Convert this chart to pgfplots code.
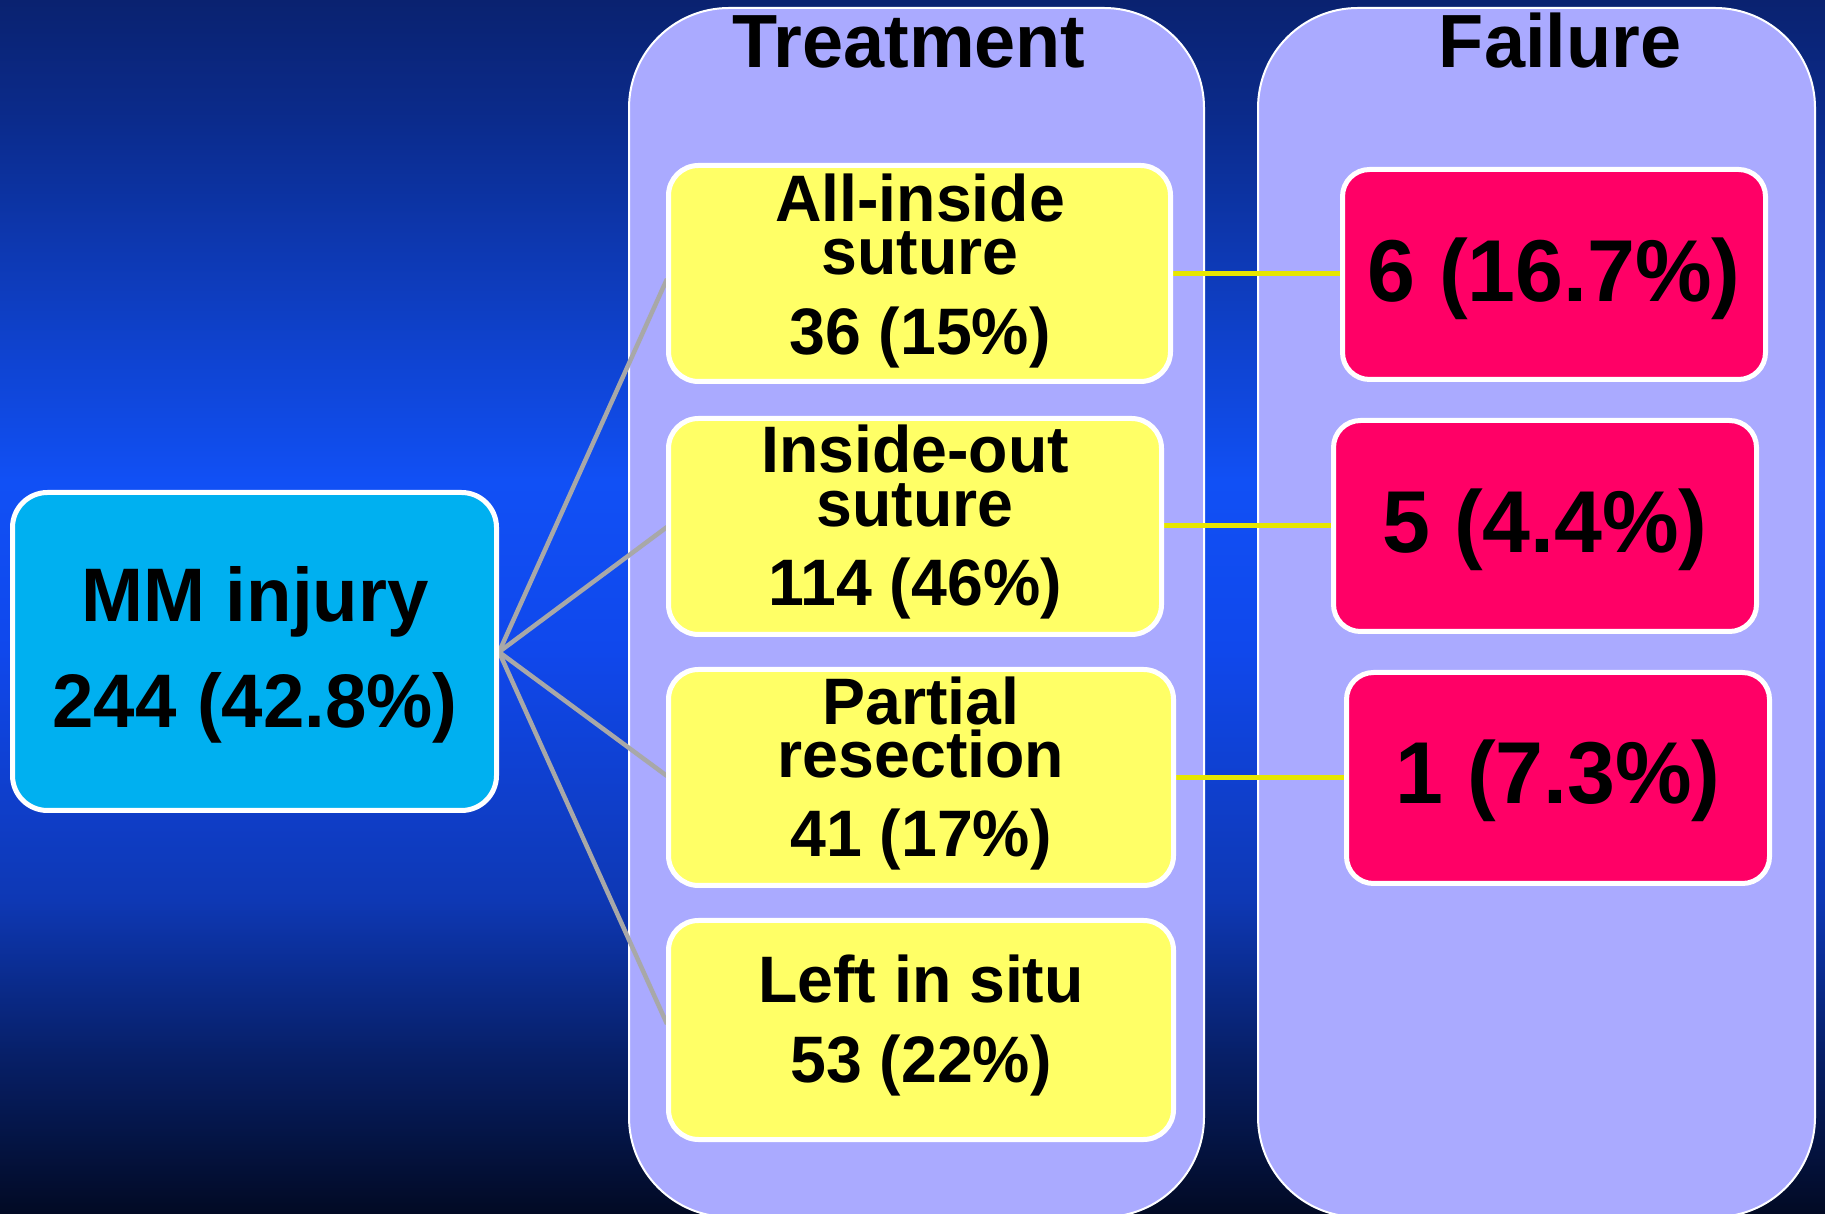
\documentclass[border=0pt]{standalone}
\usepackage{pgfplots}
\pgfplotsset{compat=1.18}
\usepackage{fontspec}
\setmainfont{Liberation Sans}[FakeStretch=0.98]
\definecolor{panel}{HTML}{AAAAFF}
\definecolor{mmcyan}{HTML}{00B0F0}
\definecolor{ybox}{HTML}{FFFF66}
\definecolor{rbox}{HTML}{FF0066}
\definecolor{yline}{HTML}{E6E600}
\definecolor{gline}{HTML}{A8A8A8}
\definecolor{bgA}{HTML}{0A2270}
\definecolor{bgB}{HTML}{0B2B8C}
\definecolor{bgC}{HTML}{1150F5}
\definecolor{bgD}{HTML}{1048EC}
\definecolor{bgE}{HTML}{0E38B4}
\definecolor{bgF}{HTML}{07206A}
\definecolor{bgG}{HTML}{020A24}
\newcommand{\tfont}{\bfseries\fontsize{21.45pt}{21.45pt}\selectfont}
\newcommand{\mfont}{\bfseries\fontsize{21.6pt}{21.6pt}\selectfont}
\newcommand{\yfont}{\bfseries\fontsize{18.7pt}{18.7pt}\selectfont}
\newcommand{\rfont}{\bfseries\fontsize{25pt}{25pt}\selectfont}
\begin{document}
\begin{tikzpicture}
\begin{axis}[scale only axis, width=18.25cm, height=12.14cm,
  xmin=0, xmax=1825, ymin=0, ymax=1214, y dir=reverse,
  hide axis, clip=true]
% background gradient
\fill[top color=bgA, bottom color=bgB] (axis cs:0,0) rectangle (axis cs:1825,121);
\fill[top color=bgB, bottom color=bgC] (axis cs:0,120) rectangle (axis cs:1825,481);
\fill[top color=bgC, bottom color=bgD] (axis cs:0,480) rectangle (axis cs:1825,651);
\fill[top color=bgD, bottom color=bgE] (axis cs:0,650) rectangle (axis cs:1825,901);
\fill[top color=bgE, bottom color=bgF] (axis cs:0,900) rectangle (axis cs:1825,1051);
\fill[top color=bgF, bottom color=bgG] (axis cs:0,1050) rectangle (axis cs:1825,1214);
% panels
\draw[overlay, fill=panel, draw=white, line width=0.02cm, rounded corners=1cm]
  (axis cs:629,1217) rectangle (axis cs:1204,8);
\draw[overlay, fill=panel, draw=white, line width=0.02cm, rounded corners=1cm]
  (axis cs:1258,1217) rectangle (axis cs:1815,8);
% connectors
\addplot[no markers, color=gline, line width=0.045cm] coordinates {(499,652) (667,279)};
\addplot[no markers, color=gline, line width=0.045cm] coordinates {(499,652) (667,527)};
\addplot[no markers, color=gline, line width=0.045cm] coordinates {(499,652) (667,776)};
\addplot[no markers, color=gline, line width=0.045cm] coordinates {(499,652) (667,1024)};
\addplot[no markers, color=yline, line width=0.05cm] coordinates {(1170,274) (1342,274)};
\addplot[no markers, color=yline, line width=0.05cm] coordinates {(1161,526) (1333,526)};
\addplot[no markers, color=yline, line width=0.05cm] coordinates {(1173,778) (1347,778)};
% MM box
\draw[fill=mmcyan, draw=white, line width=0.05cm, rounded corners=0.35cm]
  (axis cs:12.5,492.5) rectangle (axis cs:496.5,810.5);
% yellow boxes
\draw[fill=ybox, draw=white, line width=0.05cm, rounded corners=0.3cm]
  (axis cs:668.5,165.5) rectangle (axis cs:1170.5,381.5);
\draw[fill=ybox, draw=white, line width=0.05cm, rounded corners=0.3cm]
  (axis cs:668.5,418.5) rectangle (axis cs:1161.5,634.5);
\draw[fill=ybox, draw=white, line width=0.05cm, rounded corners=0.3cm]
  (axis cs:668.5,669.5) rectangle (axis cs:1173.5,885.5);
\draw[fill=ybox, draw=white, line width=0.05cm, rounded corners=0.3cm]
  (axis cs:668.5,920.5) rectangle (axis cs:1173.5,1139.5);
% red boxes
\draw[fill=rbox, draw=white, line width=0.05cm, rounded corners=0.27cm]
  (axis cs:1342.5,169.5) rectangle (axis cs:1765.5,379.5);
\draw[fill=rbox, draw=white, line width=0.05cm, rounded corners=0.27cm]
  (axis cs:1333.5,420.5) rectangle (axis cs:1756.5,631.5);
\draw[fill=rbox, draw=white, line width=0.05cm, rounded corners=0.27cm]
  (axis cs:1346.5,672.5) rectangle (axis cs:1769.5,883.5);
% titles
\node[anchor=base, inner sep=0, font=\tfont] at (axis cs:909,68) {Treatment};
\node[anchor=base, inner sep=0, font=\tfont] at (axis cs:1560,68) {Failure};
% MM text
\node[anchor=base, inner sep=0, font=\mfont] at (axis cs:255,622) {MM injury};
\node[anchor=base, inner sep=0, font=\mfont] at (axis cs:255,728) {244 (42.8\%)};
% yellow texts
\node[anchor=base, inner sep=0, font=\yfont] at (axis cs:920,222) {All-inside};
\node[anchor=base, inner sep=0, font=\yfont] at (axis cs:920,275) {suture};
\node[anchor=base, inner sep=0, font=\yfont] at (axis cs:920,355) {36 (15\%)};
\node[anchor=base, inner sep=0, font=\yfont] at (axis cs:915,473) {Inside-out};
\node[anchor=base, inner sep=0, font=\yfont] at (axis cs:915,527) {suture};
\node[anchor=base, inner sep=0, font=\yfont] at (axis cs:915,606) {114 (46\%)};
\node[anchor=base, inner sep=0, font=\yfont] at (axis cs:921,725) {Partial};
\node[anchor=base, inner sep=0, font=\yfont] at (axis cs:921,778) {resection};
\node[anchor=base, inner sep=0, font=\yfont] at (axis cs:921,857) {41 (17\%)};
\node[anchor=base, inner sep=0, font=\yfont] at (axis cs:921,1003) {Left in situ};
\node[anchor=base, inner sep=0, font=\yfont] at (axis cs:921,1083) {53 (22\%)};
% red texts
\node[anchor=base, inner sep=0, font=\rfont] at (axis cs:1554,302) {6 (16.7\%)};
\node[anchor=base, inner sep=0, font=\rfont] at (axis cs:1545,553) {5 (4.4\%)};
\node[anchor=base, inner sep=0, font=\rfont] at (axis cs:1558,804) {1 (7.3\%)};
\end{axis}
\end{tikzpicture}
\end{document}
